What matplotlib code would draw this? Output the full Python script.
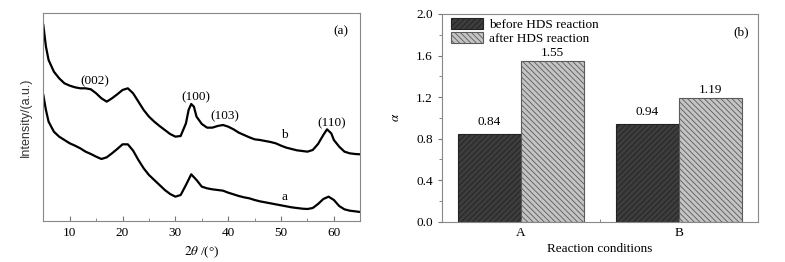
import numpy as np
import matplotlib
matplotlib.use("Agg")
import matplotlib.pyplot as plt
from matplotlib.ticker import MultipleLocator

plt.rcParams["font.family"] = ["Liberation Serif", "DejaVu Serif"]
plt.rcParams["mathtext.fontset"] = "stix"
plt.rcParams["hatch.linewidth"] = 0.6

# (a) XRD patterns, intensity (arbitrary units)
two_theta = [5, 5.5, 6, 7, 8, 9, 10, 11, 12, 13, 14, 15, 16, 17, 18, 19, 20, 21,
             22, 23, 24, 25, 26, 27, 28, 29, 30, 31, 32, 32.5, 33, 33.5, 34, 35,
             36, 37, 38, 39, 40, 41, 42, 43, 44, 45, 46, 47, 48, 49, 50, 51, 52,
             53, 54, 55, 56, 57, 58, 58.7, 59.5, 60, 61, 62, 63, 64, 65]
curve_b = [588, 523, 483, 448, 428, 413, 406, 401, 398, 398, 395, 383, 368, 358,
           368, 380, 393, 398, 383, 358, 333, 313, 298, 285, 273, 261, 253, 255,
           293, 333, 351, 343, 313, 291, 280, 280, 285, 288, 283, 275, 265, 258,
           251, 245, 243, 240, 237, 233, 226, 220, 216, 212, 210, 208, 213, 231,
           258, 275, 263, 243, 223, 208, 203, 201, 200]
theta_a = [5, 5.5, 6, 7, 8, 9, 10, 11, 12, 13, 14, 15, 16, 17, 18, 19, 20, 21, 22,
           23, 24, 25, 26, 27, 28, 29, 30, 31, 32, 33, 34, 35, 36, 37, 38, 39, 40,
           41, 42, 43, 44, 45, 46, 47, 48, 49, 50, 51, 52, 53, 54, 55, 56, 57, 58,
           59, 60, 61, 62, 63, 64, 65]
curve_a = [378, 333, 298, 268, 253, 243, 233, 226, 218, 208, 201, 193, 186, 191,
           203, 216, 230, 230, 211, 183, 158, 138, 123, 108, 93, 81, 73, 78, 108,
           140, 123, 103, 98, 95, 93, 91, 85, 80, 75, 71, 68, 63, 59, 56, 53, 50,
           47, 44, 41, 39, 37, 36, 39, 51, 66, 73, 63, 45, 35, 31, 29, 27]
peak_labels = ["(002)", "(100)", "(103)", "(110)"]
peak_x = [14.8, 33.8, 39.4, 59.6]
peak_y = [418, 371, 313, 293]

# (b) alpha values
conditions = ["A", "B"]
before_hds = [0.84, 0.94]
after_hds = [1.55, 1.19]

FS = 9.5

fig = plt.figure(figsize=(7.85, 2.62), dpi=100)
ax1 = fig.add_axes([43.3 / 785, 1 - 221 / 262, 317 / 785, 207.7 / 262])
ax2 = fig.add_axes([441.7 / 785, 1 - 221.7 / 262, 316.6 / 785, 207.7 / 262])

# ---- panel (a)
ax1.plot(two_theta, curve_b, color="black", lw=1.6)
ax1.plot(theta_a, curve_a, color="black", lw=1.6)
for lab, px, py in zip(peak_labels, peak_x, peak_y):
    ax1.text(px, py, lab, ha="center", va="center", fontsize=FS)
ax1.text(50.7, 258, "b", ha="center", va="center", fontsize=FS)
ax1.text(50.7, 71, "a", ha="center", va="center", fontsize=FS)
ax1.text(61.3, 568, "(a)", ha="center", va="center", fontsize=FS)
ax1.set_xlim(5, 65)
ax1.set_ylim(0, 623)
ax1.set_xticks([10, 20, 30, 40, 50, 60])
ax1.xaxis.set_minor_locator(MultipleLocator(5))
ax1.set_yticks([])
ax1.tick_params(axis="x", which="both", direction="in", labelsize=FS, pad=4)
ax1.tick_params(axis="x", which="major", length=3.5, color="#777777")
ax1.tick_params(axis="x", which="minor", length=2, color="#777777")
ax1.set_xlabel(r"$2\theta$ /(°)", fontsize=FS, labelpad=4)
ax1.set_ylabel("Intensity/(a.u.)", fontsize=9, family=["Liberation Sans", "DejaVu Sans"],
               color="#333333", labelpad=8)

# ---- panel (b)
x = np.arange(len(conditions))
w = 0.4
b1 = ax2.bar(x - w / 2, before_hds, w, color="#3d3d3d", edgecolor="#222222",
             hatch="//////", lw=0.8, label="before HDS reaction")
b2 = ax2.bar(x + w / 2, after_hds, w, color="#c4c4c4", edgecolor="#5a5a5a",
             hatch="\\\\\\\\\\\\", lw=0.8, label="after HDS reaction")
for xi, v in zip(x - w / 2, before_hds):
    ax2.text(xi, v + 0.06, f"{v:.2f}", ha="center", va="bottom", fontsize=FS)
for xi, v in zip(x + w / 2, after_hds):
    ax2.text(xi, v + 0.02, f"{v:.2f}", ha="center", va="bottom", fontsize=FS)
ax2.text(1.39, 1.82, "(b)", ha="center", va="center", fontsize=FS)
ax2.set_xlim(-0.5, 1.5)
ax2.set_ylim(0, 2.0)
ax2.set_xticks(x)
ax2.set_xticklabels(conditions)
ax2.set_xticks([0.5], minor=True)
ax2.yaxis.set_major_locator(MultipleLocator(0.4))
ax2.yaxis.set_minor_locator(MultipleLocator(0.2))
ax2.tick_params(axis="x", which="both", direction="in", length=2.5, labelsize=FS,
                color="#777777")
ax2.tick_params(axis="y", which="major", direction="out", length=3, labelsize=FS,
                color="#777777")
ax2.tick_params(axis="y", which="minor", direction="out", length=2, color="#777777")
ax2.set_xlabel("Reaction conditions", fontsize=FS, labelpad=3)
ax2.set_ylabel(r"$\alpha$", fontsize=FS, labelpad=10)
ax2.legend(loc="upper left", bbox_to_anchor=(0.0, 1.025), frameon=False, fontsize=FS,
           handlelength=2.4, handleheight=0.9, handletextpad=0.5, labelspacing=0.1,
           borderaxespad=0.3)

for ax in (ax1, ax2):
    for sp in ax.spines.values():
        sp.set_color("#888888")
        sp.set_linewidth(0.8)

fig.savefig("out.png", dpi=100)
